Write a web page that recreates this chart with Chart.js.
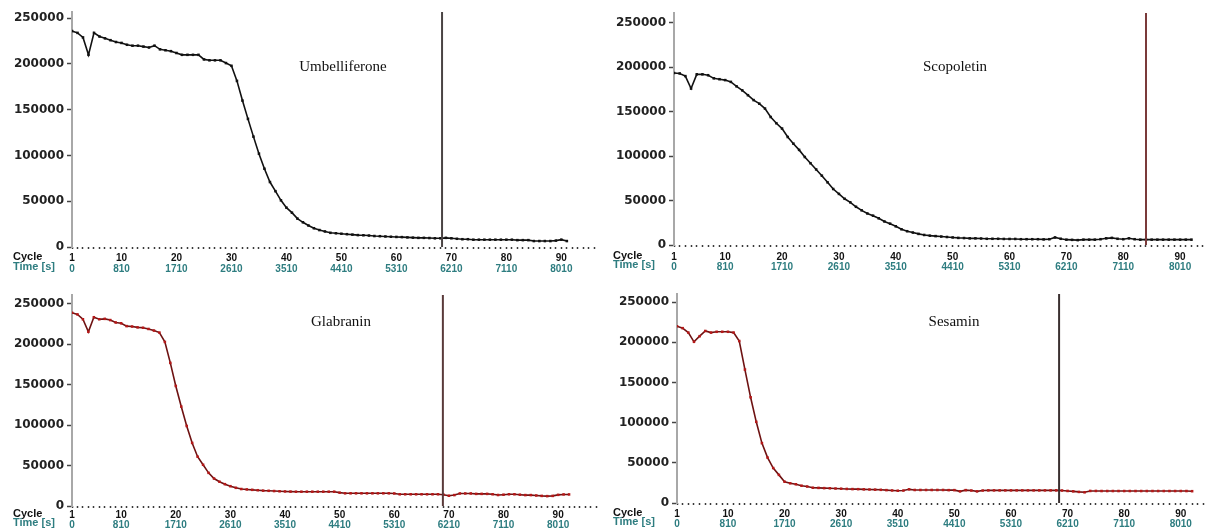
<!DOCTYPE html>
<html>
<head>
<meta charset="utf-8">
<script src="https://cdn.jsdelivr.net/npm/chart.js@4.4.1/dist/chart.umd.min.js"></script>
<style>
  html, body { margin: 0; padding: 0; background: #fff; }
  #wrap { position: relative; width: 1208px; height: 529px; overflow: hidden; background: #fff; }
  canvas { position: absolute; }
</style>
</head>
<body>
<div id="wrap"></div>
<script>
// tick labels
const cycleLabels = [1, 10, 20, 30, 40, 50, 60, 70, 80, 90];
const timeLabels = ["0", "810", "1710", "2610", "3510", "4410", "5310", "6210", "7110", "8010"];
const yTicks = [0, 50000, 100000, 150000, 200000, 250000];

const names = ["Umbelliferone", "Scopoletin", "Glabranin", "Sesamin"];

// fluorescence per cycle (cycle 1 first)
const umbValues = [
  236000, 234000, 229000, 210000, 234000, 230000, 228000, 226000, 224000, 223000,
  221000, 220000, 220000, 219000, 218000, 220000, 216000, 215000, 214000, 212000,
  210000, 210000, 210000, 210000, 205000, 204000, 204000, 204000, 201000, 198000,
  181500, 160000, 140000, 120600, 102000, 85500, 71000, 61000, 51000, 43000,
  37500, 31000, 27000, 23500, 20500, 18500, 17000, 15500, 15000, 14500,
  14000, 13500, 13000, 12800, 12500, 12000, 11800, 11500, 11200, 11000,
  10800, 10500, 10200, 10000, 10000, 9800, 9500, 9500, 10000, 9500,
  9000, 8500, 8500, 8000, 8000, 8000, 8000, 8000, 8000, 8000,
  8000, 7500, 7500, 7500, 6500, 6500, 6500, 6500, 7000, 8000,
  6500
];
const scoValues = [
  193500, 193000, 190000, 176000, 192000, 192000, 191000, 187500, 186500, 185500,
  183500, 178500, 174000, 168500, 163000, 159000, 153500, 144000, 137000, 131000,
  121500, 114000, 107000, 99000, 92000, 85000, 78000, 70500, 63000, 57500,
  52000, 48000, 43000, 39000, 35500, 33000, 30000, 26500, 24000, 21000,
  17700, 15500, 14000, 12500, 11300, 10500, 10000, 9500, 9000, 8500,
  8000, 7800, 7500, 7500, 7300, 7000, 7000, 7000, 6800, 6800,
  6800, 6500, 6500, 6500, 6500, 6300, 6500, 8500, 7000, 6000,
  5800, 5500, 6000, 6000, 6000, 6500, 7500, 8000, 7000, 6500,
  7500, 6500, 6000, 6000, 6000, 6000, 6000, 6000, 6000, 6000,
  6000, 6000
];
const glaValues = [
  239000, 237000, 231000, 215500, 233500, 231000, 231500, 230000, 227000, 226000,
  222500, 222000, 221000, 220500, 219000, 217000, 214500,
  203000, 177000, 148500, 123000, 99000, 78000, 61000, 51000, 41000, 34000,
  30000, 27000, 24500, 22500, 21000, 20500, 20000, 19500, 19000, 18800,
  18500, 18200, 18000, 17800, 17700, 17700, 17700, 17700, 17700, 17700,
  17700, 17700, 16500, 15700, 15700, 15700, 15700, 15700, 15700, 15700,
  15700, 15700, 15500, 14500, 14500, 14500, 14500, 14500, 14500, 14500,
  14500, 14000, 12700, 13500, 15500, 15500, 15500, 15000, 15000, 15000,
  14500, 13600, 14000, 14500, 14500, 14000, 13500, 13500, 13000, 12500,
  12200, 12500, 13800, 14300, 14300
];
const sesValues = [
  220000, 217500, 212000, 200500, 207500, 214000, 212000, 213000, 213000, 213000,
  212000, 201500, 166000, 131500, 101000, 74500, 56500, 43500, 35000, 26500,
  24500, 23300, 21500, 20500, 19000, 18800, 18500, 18300, 18000, 17800,
  17500, 17300, 17200, 17000, 16800, 16600, 16400, 16000, 15600, 15300,
  15500, 17000, 16200, 16200, 16200, 16200, 16200, 16200, 16000, 16000,
  14500, 16000, 15500, 14500, 15500, 15700, 15700, 15700, 15700, 15700,
  15700, 15700, 15700, 15700, 15700, 15700, 15700, 15700, 15500, 15000,
  14500, 13800, 13300, 15000, 15000, 14900, 14900, 14900, 14900, 14900,
  14900, 14900, 14900, 14900, 14900, 14900, 14900, 14900, 14900, 14900,
  14900, 14700
];
const seriesList = [umbValues, scoValues, glaValues, sesValues];

// cursor position (cycle) and axis ranges
const cursorCycles = [68.3, 84, 68.9, 68.5];
const xMaxes = [96.3, 94.2, 97.3, 94.1];
const yMaxes = [256800, 261000, 261000, 260000];

const TEAL = "#2e7d80";

// panel placement (rows are offsets below the plot bottom)
const panels = [
  { left: 0,   top: 0,   w: 604, h: 272, yw: 72, padTop: 12, padRight: 8, xh: 25, cycleRow: 10, timeRow: 20,
    tx: 343, ty: 67, line: "#111", mark: "#111", cursor: "#4a4444" },
  { left: 600, top: 0,   w: 608, h: 272, yw: 74, padTop: 13, padRight: 3, xh: 27, cycleRow: 11, timeRow: 20,
    tx: 355, ty: 67, line: "#111", mark: "#111", cursor: "#7a3a3a" },
  { left: 0,   top: 280, w: 604, h: 249, yw: 72, padTop: 15, padRight: 6, xh: 23, cycleRow: 8, timeRow: 17,
    tx: 341, ty: 42, line: "#6e1212", mark: "#b51818", cursor: "#5a3a3a" },
  { left: 600, top: 280, w: 608, h: 249, yw: 77, padTop: 14, padRight: 3, xh: 26, cycleRow: 10, timeRow: 19,
    tx: 354, ty: 42, line: "#6e1212", mark: "#b51818", cursor: "#3a3030" }
];

const wrap = document.getElementById("wrap");
const xFont = { family: "'Liberation Sans', Arial, sans-serif", size: 10, weight: "bold" };
const yFont = { family: "'DejaVu Sans', sans-serif", size: 12, weight: "bold" };

function makePanel(i) {
  const g = panels[i];
  const values = seriesList[i];
  const cv = document.createElement("canvas");
  cv.width = g.w;
  cv.height = g.h;
  cv.style.left = g.left + "px";
  cv.style.top = g.top + "px";
  wrap.appendChild(cv);

  const allCycles = [];
  for (let c = 1; c <= Math.floor(xMaxes[i]); c++) allCycles.push(c);

  const h1 = g.cycleRow + 5;
  const h2 = g.xh - h1;

  const overlay = {
    id: "overlay" + i,
    afterDatasetsDraw(chart) {
      const { ctx, chartArea, scales } = chart;
      const px = scales.x.getPixelForValue(cursorCycles[i]);
      ctx.save();
      ctx.strokeStyle = g.cursor;
      ctx.lineWidth = 2;
      ctx.beginPath();
      ctx.moveTo(px, chartArea.top);
      ctx.lineTo(px, chartArea.bottom);
      ctx.stroke();

      ctx.font = "bold 11px 'Liberation Sans', Arial, sans-serif";
      ctx.textBaseline = "middle";
      ctx.textAlign = "left";
      ctx.fillStyle = "#111";
      ctx.fillText("Cycle", 13, chartArea.bottom + g.cycleRow);
      ctx.fillStyle = TEAL;
      ctx.fillText("Time [s]", 13, chartArea.bottom + g.timeRow);

      ctx.font = "15px 'Liberation Serif', 'Times New Roman', serif";
      ctx.textAlign = "center";
      ctx.fillStyle = "#111";
      ctx.fillText(names[i], g.tx, g.ty);
      ctx.restore();
    }
  };

  new Chart(cv, {
    type: "line",
    data: {
      datasets: [{
        data: values.map((v, k) => ({ x: k + 1, y: v })),
        borderColor: g.line,
        borderWidth: 1.6,
        pointStyle: "rect",
        pointRadius: 1.8,
        pointBackgroundColor: g.mark,
        pointBorderWidth: 0,
        tension: 0
      }]
    },
    options: {
      responsive: false,
      animation: false,
      devicePixelRatio: 1,
      layout: { padding: { top: g.padTop, right: g.padRight, left: 0, bottom: 0 } },
      plugins: { legend: { display: false }, tooltip: { enabled: false } },
      scales: {
        x: {
          type: "linear", position: "bottom", weight: 1,
          min: 1, max: xMaxes[i],
          afterBuildTicks: s => { s.ticks = allCycles.map(v => ({ value: v })); },
          afterFit: s => { s.height = h1; },
          grid: { display: true, drawOnChartArea: false, drawTicks: true, tickLength: 2, tickWidth: 1.5, tickColor: "#3a3a3a" },
          border: { display: false },
          ticks: {
            autoSkip: false, maxRotation: 0, padding: g.cycleRow - 7, color: "#111", font: xFont,
            callback: v => cycleLabels.includes(v) ? String(v) : ""
          }
        },
        xt: {
          type: "linear", position: "bottom", weight: 2,
          min: 1, max: xMaxes[i],
          afterBuildTicks: s => { s.ticks = cycleLabels.map(v => ({ value: v })); },
          afterFit: s => { s.height = h2; },
          grid: { display: false },
          border: { display: false },
          ticks: {
            autoSkip: false, maxRotation: 0, padding: g.timeRow - h1 - 12, color: TEAL, font: xFont,
            callback: (v, k) => timeLabels[k]
          }
        },
        y: {
          type: "linear", min: 0, max: yMaxes[i],
          afterBuildTicks: s => { s.ticks = yTicks.map(v => ({ value: v })); },
          afterFit: s => { s.width = g.yw; },
          grid: { drawOnChartArea: false, drawTicks: true, tickLength: 5, tickWidth: 1.5, tickColor: "#444" },
          border: { color: "#a8a8a8", width: 2 },
          ticks: { padding: 3, color: "#222", font: yFont, callback: v => String(v) }
        }
      }
    },
    plugins: [overlay]
  });
}

for (let i = 0; i < 4; i++) makePanel(i);
</script>
</body>
</html>
